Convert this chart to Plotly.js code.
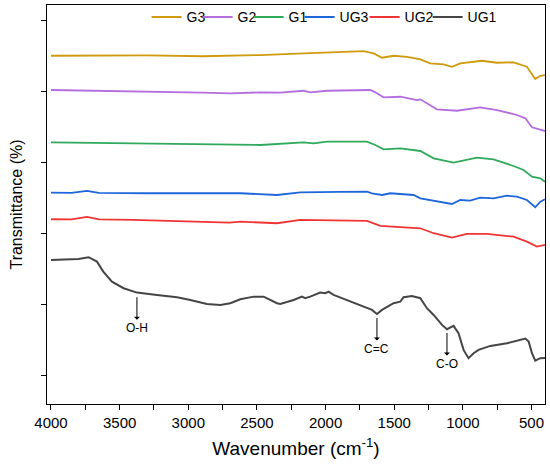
<!DOCTYPE html>
<html>
<head>
<meta charset="utf-8">
<script src="https://cdn.plot.ly/plotly-3.0.1.min.js"></script>
<style>html,body{margin:0;padding:0;background:#fff;}#chart{width:550px;height:468px;}</style>
</head>
<body>
<div id="chart"></div>
<script>
// Wavenumber (cm-1) and transmittance (arbitrary offset units)
var ug1_x = [4000,3900,3800,3726,3665,3619,3556,3471,3374,3228,3082,2985,2864,2767,2694,2621,2524,2451,2379,2354,2330,2233,2172,2148,2112,2039,2002,1978,1942,1844,1747,1662,1626,1589,1505,1456,1432,1371,1310,1262,1213,1152,1116,1068,1032,995,959,922,886,800,679,606,545,521,497,473,436,402];
var ug1_y = [32.56,32.69,32.83,33.31,32.07,29.26,26.44,24.59,23.35,22.70,22.05,21.29,20.17,19.89,20.37,21.49,22.22,22.22,20.82,20.37,20.17,21.29,22.22,21.77,22.22,23.35,23.18,23.63,22.70,21.29,19.89,18.48,17.35,18.48,20.37,20.82,22.05,22.42,21.77,18.96,17.07,14.26,13.05,13.98,11.93,7.23,4.89,6.30,7.23,8.35,9.11,9.76,10.41,9.56,6.30,4.22,4.89,4.98];

var ug2_x = [4000,3850,3738,3650,3400,3000,2700,2621,2354,2184,1900,1698,1602,1480,1310,1213,1080,971,825,631,534,461,402];
var ug2_y = [44.00,43.94,44.64,43.94,43.80,43.38,43.04,43.32,42.87,43.80,43.66,43.52,42.11,41.91,41.46,40.06,38.82,39.86,39.86,39.10,37.69,36.29,36.77];

var ug3_x = [4000,3850,3740,3650,3300,3000,2621,2354,2184,1900,1698,1662,1589,1529,1359,1310,1213,1080,1019,947,874,777,679,606,534,473,436,402];
var ug3_y = [51.48,51.45,51.96,51.45,51.31,51.25,51.31,50.83,51.59,51.68,51.76,51.31,50.83,51.31,50.83,49.90,49.23,48.30,49.42,49.23,50.07,49.90,50.63,50.35,49.42,47.37,48.95,49.62];

var g1_x = [4000,3700,3300,2900,2694,2475,2160,2087,1990,1699,1638,1578,1456,1359,1310,1213,1068,898,777,631,558,497,436,402];
var g1_y = [65.66,65.51,65.32,65.04,64.81,64.90,65.66,65.37,65.82,65.82,64.90,63.69,63.97,63.49,63.21,61.15,59.92,61.32,60.87,58.99,57.87,55.98,55.53,54.57];

var g2_x = [4000,3700,3300,2900,2694,2475,2330,2160,2112,1990,1674,1638,1578,1456,1335,1310,1189,1044,874,752,606,545,497,461,402];
var g2_y = [80.37,80.23,79.95,79.66,79.44,79.72,79.61,80.17,79.72,80.17,80.37,79.72,78.31,78.48,77.55,77.75,74.94,74.54,75.50,74.74,73.34,72.41,69.88,69.40,68.83];

var g3_x = [4000,3700,3300,2900,2475,2160,1869,1723,1650,1589,1505,1407,1310,1238,1141,1080,1019,861,752,631,534,473,436,402];
var g3_y = [90.02,90.07,90.13,89.88,90.21,90.69,91.14,91.34,90.69,89.45,90.02,89.73,89.00,87.88,87.60,86.92,87.88,88.61,88.05,88.16,86.92,83.46,84.39,84.59];

var seriesNames = ['G3','G2','G1','UG3','UG2','UG1'];
var xTickVals = [4000,3500,3000,2500,2000,1500,1000,500];

// band labels: wavenumber, transmittance of the UG1 curve at the arrow top, label
var bandWn = [3374,1626,1116];
var bandT = [22.05,16.23,12.01];
var bandLabels = ['O-H','C=C','C-O'];

var colors = ['#D09A0E','#B36DDF','#2FAA5C','#1E66DC','#F03434','#454545'];
var xs = [g3_x,g2_x,g1_x,ug3_x,ug2_x,ug1_x];
var ys = [g3_y,g2_y,g1_y,ug3_y,ug2_y,ug1_y];
var legW = [6,6,6,20,18,32];

var traces = seriesNames.map(function(n,i){
  return {x: xs[i], y: ys[i], name: n, type:'scatter', mode:'lines', legendwidth: legW[i],
    line:{color:colors[i], width: (n==='UG1'?2:1.8)}};
});

var fontFam = 'Liberation Sans, Arial, sans-serif';

var annots = bandWn.map(function(w,i){
  return {x:w, y:bandT[i], xref:'x', yref:'y', text:bandLabels[i], showarrow:true,
    arrowside:'start', ax:0, ay:31, arrowhead:2, arrowsize:1, arrowwidth:1, arrowcolor:'#000',
    standoff:0, startstandoff:0, font:{family:fontFam, size:12, color:'#000'}};
});

var layout = {
  width:550, height:468,
  margin:{l:47, r:5, t:5, b:64, autoexpand:false},
  paper_bgcolor:'#fff', plot_bgcolor:'#fff',
  showlegend:true,
  legend:{orientation:'h', x:0.2, xanchor:'left', yref:'container', y:0.997, yanchor:'top',
    font:{family:fontFam, size:14, color:'#000'}, bgcolor:'rgba(0,0,0,0)',
    traceorder:'normal', itemwidth:30, tracegroupgap:0},
  xaxis:{range:[4029,402], tickvals:xTickVals, ticks:'outside', ticklen:5, tickwidth:1,
    tickcolor:'#000', showline:true, linecolor:'#000', linewidth:1.3, mirror:true,
    showgrid:false, zeroline:false, automargin:false,
    minor:{dtick:250, ticks:'outside', ticklen:5, tickcolor:'#000', showgrid:false},
    tickfont:{family:fontFam, size:15, color:'#000'},
    title:{text:'Wavenumber (cm<sup>-1</sup>)', font:{family:fontFam, size:19, color:'#000'}, standoff:11}},
  yaxis:{range:[-8,104.3], dtick:20, tick0:0, ticks:'outside', ticklen:5, tickwidth:1,
    tickcolor:'#000', showticklabels:false, showline:true, linecolor:'#000', linewidth:1.3, mirror:true,
    showgrid:false, zeroline:false, automargin:false,
    title:{text:'Transmittance (%)', font:{family:fontFam, size:16, color:'#000'}, standoff:14}},
  annotations: annots
};

Plotly.newPlot('chart', traces, layout, {staticPlot:true, displayModeBar:false});
</script>
</body>
</html>
